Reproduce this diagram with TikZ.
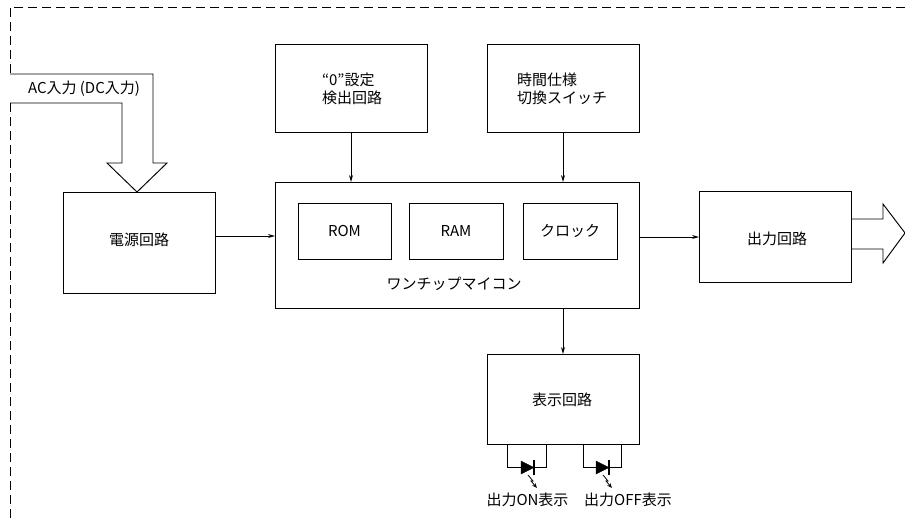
\documentclass[tikz,border=0pt]{standalone}
\usepackage{fontspec}
\setmainfont{Noto Sans CJK JP}
\usetikzlibrary{arrows.meta}
\tikzset{
  every node/.style={inner sep=0pt,outer sep=0pt},
  boxn/.style={draw=black,line width=0.95pt,anchor=north west},
  lbl/.style={font=\fontsize{15}{18}\selectfont,text=black,align=left},
  sm/.style={font=\fontsize{15}{16}\selectfont,text=black},
  wire/.style={draw=black,line width=0.9pt},
  sig/.style={wire,-{Stealth[length=7pt,width=4pt]}},
  bound/.style={draw=black,line width=0.8pt,dash pattern=on 9pt off 5pt},
  ledtri/.style={fill=black,draw=black,line width=0.3pt}
}
\begin{document}
\begin{tikzpicture}[x=1pt,y=-1pt]
\useasboundingbox (0,0) rectangle (905,520);
% boundary
\coordinate (b0) at (905,7); \coordinate (b1) at (10,7); \coordinate (b2) at (10,74);
\coordinate (b3) at (10,103); \coordinate (b4) at (10,520);
\draw[bound] (b0) -- (b1) -- (b2);
\draw[bound] (b3) -- (b4);
% blocks
\node[boxn,minimum width=152pt,minimum height=101pt] (pwr) at (63,192) {};
\node[lbl] (tpwr) at (139,240) {電源回路};
\node[boxn,minimum width=152pt,minimum height=88pt] (zero) at (275,44) {};
\node[lbl,anchor=west] (tzero) at (322,89) {“0”設定\\検出回路};
\node[boxn,minimum width=152pt,minimum height=88pt] (time) at (487,44) {};
\node[lbl,anchor=west] (ttime) at (517,89) {時間仕様\\切換スイッチ};
\node[boxn,minimum width=364pt,minimum height=126pt] (mcu) at (275,182) {};
\node[lbl] (tmcu) at (454,284) {ワンチップマイコン};
\node[boxn,minimum width=93pt,minimum height=56pt] (rom) at (298,203) {};
\node[lbl] (trom) at (rom.center) {ROM};
\node[boxn,minimum width=94pt,minimum height=56pt] (ram) at (409,203) {};
\node[lbl] (tram) at (ram.center) {RAM};
\node[boxn,minimum width=94pt,minimum height=56pt] (clk) at (523,203) {};
\node[lbl] (tclk) at (clk.center) {クロック};
\node[boxn,minimum width=152pt,minimum height=91pt] (out) at (699,191) {};
\node[lbl] (tout) at (777,239) {出力回路};
\node[boxn,minimum width=152pt,minimum height=90pt] (disp) at (487,354) {};
\node[lbl] (tdisp) at (562,400) {表示回路};
% connectors
\coordinate (r1) at (0,236);
\coordinate (r2) at (0,237);
\draw[sig] (zero.south) -- (zero.south |- mcu.north);
\draw[sig] (time.south) -- (time.south |- mcu.north);
\draw[sig] (pwr.east |- r1) -- (mcu.west |- r1);
\draw[sig] (mcu.east |- r2) -- (out.west |- r2);
\draw[sig] (disp.north |- mcu.south) -- (disp.north);
% AC input arrow
\coordinate (ia) at (10,74); \coordinate (ib) at (10,103);
\draw[wire,line width=0.95pt,line join=miter] (ia) -- (153,74) -- (153,163) -- (167,163) -- (137,192) -- (107,163) -- (122,163) -- (122,103) -- (ib);
\node[sm] (tac) at (84,89) {AC入力 (DC入力)};
% output arrow
\draw[wire,line width=0.95pt] (851,219) -- (883,219) -- (883,204) -- (905,233) -- (883,263) -- (883,249) -- (851,249);
% LEDs
\foreach \a/\b/\t in {507/546/521,583/621/596}{
  \draw[wire] (\a,444) -- (\a,467) -- (\b,467) -- (\b,444);
  \path[ledtri] (\t,461) -- (\t+13,467.5) -- (\t,474) -- cycle;
  \draw[wire,line width=1.2pt] (\t+13,460) -- (\t+13,475);
  \draw[line width=0.8pt,black,-{Stealth[length=5pt,width=4pt]}] (\t+7,475) -- (\t+12,481) -- (\t+10,481) -- (\t+16,488);
}
\node[sm] (ton) at (527.5,500) {出力ON表示};
\node[sm] (toff) at (628,500) {出力OFF表示};
\end{tikzpicture}
\end{document}
